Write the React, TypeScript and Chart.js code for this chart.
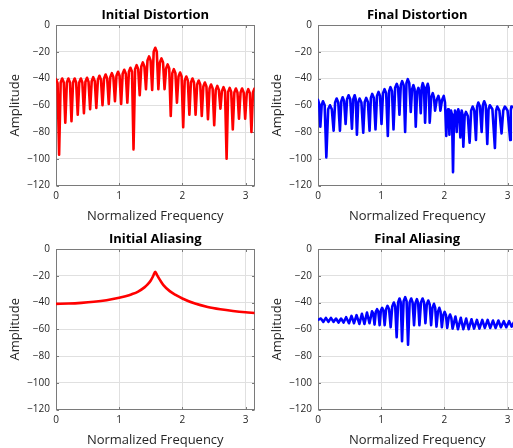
import React, { useEffect, useRef } from "react";
import { Chart, registerables } from "chart.js";
Chart.register(...registerables);

// ---------- axis / tick data ----------
const FREQ_MIN = 0;
const FREQ_MAX = 3.1416;
const AMP_MIN = -120;
const AMP_MAX = 0;
const FREQ_STEP = 1;
const AMP_STEP = 20;

// ---------- Initial Distortion (red) ----------
const initDistFreq = [
  0, 0.025, 0.049, 0.074, 0.098, 0.123, 0.147, 0.172, 0.196, 0.221, 0.245, 0.27, 0.295, 0.319, 0.344, 0.368,
  0.393, 0.417, 0.442, 0.466, 0.491, 0.515, 0.54, 0.565, 0.589, 0.614, 0.638, 0.663, 0.687, 0.712, 0.736, 0.761,
  0.785, 0.81, 0.835, 0.859, 0.884, 0.908, 0.933, 0.957, 0.982, 1.006, 1.031, 1.055, 1.08, 1.105, 1.129, 1.154,
  1.178, 1.203, 1.227, 1.252, 1.276, 1.301, 1.325, 1.35, 1.374, 1.399, 1.424, 1.448, 1.473, 1.497, 1.522, 1.546,
  1.571, 1.595, 1.62, 1.644, 1.669, 1.694, 1.718, 1.743, 1.767, 1.792, 1.816, 1.841, 1.865, 1.89, 1.914, 1.939,
  1.964, 1.988, 2.013, 2.037, 2.062, 2.086, 2.111, 2.135, 2.16, 2.184, 2.209, 2.234, 2.258, 2.283, 2.307, 2.332,
  2.356, 2.381, 2.405, 2.43, 2.454, 2.479, 2.504, 2.528, 2.553, 2.577, 2.602, 2.626, 2.651, 2.675, 2.7, 2.724,
  2.749, 2.773, 2.798, 2.823, 2.847, 2.872, 2.896, 2.921, 2.945, 2.97, 2.994, 3.019, 3.043, 3.068, 3.093, 3.117,
  3.1416,
];
const initDistAmp = [
  -40.5, -43.5, -97, -43, -40, -43, -73, -43, -40, -43, -72, -43, -40, -43, -67, -43,
  -40, -43, -66, -42.5, -39.5, -42.5, -63, -42, -39, -42, -62, -41, -38, -41, -60, -40,
  -37, -40, -59, -39, -36, -39, -57, -38, -35, -38, -59, -36.5, -33.5, -36.5, -58, -35,
  -32, -35, -93, -33, -30, -33, -52.5, -31, -28, -31, -48, -26.5, -23.5, -26.5, -48.5, -20,
  -17, -20, -48, -28, -25, -28, -48, -32.5, -29.5, -32.5, -68, -36, -33, -36, -58, -38.5,
  -35.5, -38.5, -76.5, -41.5, -38.5, -41.5, -67, -43, -40, -43, -67, -44.5, -41.5, -44.5, -68, -46,
  -43, -46, -70.5, -47.5, -44.5, -47.5, -75, -48.5, -45.5, -48.5, -62.5, -49.5, -46.5, -49.5, -100, -50,
  -47, -50, -78, -50.5, -47.5, -50.5, -70, -50.5, -47.5, -50.5, -70, -51, -48, -51, -80, -50.5,
  -47.5,
];

// ---------- Final Distortion (blue) ----------
const finalDistFreq = [
  0, 0.0185, 0.037, 0.058, 0.079, 0.1055, 0.132, 0.161, 0.19, 0.2185,
  0.247, 0.271, 0.295, 0.321, 0.347, 0.3685, 0.39, 0.4135, 0.437, 0.4605,
  0.484, 0.5105, 0.537, 0.5585, 0.58, 0.598, 0.616, 0.637, 0.658, 0.687,
  0.716, 0.7395, 0.763, 0.7895, 0.816, 0.837, 0.858, 0.884, 0.91, 0.934,
  0.958, 0.9815, 1.005, 1.029, 1.053, 1.079, 1.105, 1.126, 1.147, 1.171,
  1.195, 1.221, 1.247, 1.268, 1.289, 1.3105, 1.332, 1.3555, 1.379, 1.4,
  1.421, 1.4445, 1.468, 1.489, 1.51, 1.5285, 1.547, 1.568, 1.589, 1.6075,
  1.626, 1.642, 1.658, 1.6765, 1.695, 1.716, 1.737, 1.7525, 1.768, 1.792,
  1.816, 1.8345, 1.853, 1.879, 1.905, 1.921, 1.937, 1.9635, 1.99, 2.01,
  2.03, 2.044, 2.058, 2.069, 2.08, 2.0925, 2.105, 2.121, 2.137, 2.1525,
  2.168, 2.1815, 2.195, 2.2075, 2.22, 2.2365, 2.253, 2.2635, 2.274, 2.287,
  2.3, 2.321, 2.342, 2.371, 2.4, 2.4235, 2.447, 2.4735, 2.5, 2.5185,
  2.537, 2.5635, 2.59, 2.61, 2.63, 2.6545, 2.679, 2.6995, 2.72, 2.76,
  2.8, 2.8185, 2.837, 2.871, 2.905, 2.9315, 2.958, 3.0, 3.042, 3.051,
  3.06, 3.1416,
];
const finalDistAmp = [
  -56, -59, -76, -60, -57, -60, -99, -63, -60, -63,
  -79, -58, -55, -58, -79, -57, -54, -57, -74, -55.5,
  -52.5, -55.5, -77.5, -55.5, -52.5, -55.5, -82, -58, -55, -58,
  -80.5, -57.5, -54.5, -57.5, -79, -54.5, -51.5, -54.5, -78, -53,
  -50, -53, -74, -51, -48, -51, -83, -49.5, -46.5, -49.5,
  -78, -47, -44, -47, -67, -45, -42, -45, -80, -43.5,
  -40.5, -43.5, -65, -48, -45, -48, -76, -50, -47, -50,
  -66, -46.5, -43.5, -46.5, -73, -47, -44, -47, -73, -54,
  -51, -54, -64, -56, -53, -56, -64, -56, -53, -58,
  -83, -66, -63, -66, -82, -67, -64, -67, -110, -67,
  -64, -67, -80, -66, -63, -66, -84, -67, -64, -67,
  -91, -68, -65, -68, -88, -64, -61, -64, -86, -61,
  -58, -61, -80, -60, -57, -60, -89, -63, -60, -63,
  -92, -64, -61, -64, -81, -64, -61, -64, -86, -64,
  -61, -62,
];

// ---------- Initial Aliasing (red) ----------
const initAliasFreq = [
  0, 0.2, 0.4, 0.6, 0.8, 1.0, 1.1, 1.2, 1.3, 1.4, 1.45, 1.5, 1.54, 1.5708, 1.6, 1.65, 1.7, 1.8, 1.9, 2.0,
  2.2, 2.4, 2.6, 2.8, 3.0, 3.1416,
];
const initAliasAmp = [
  -41, -40.8, -40.3, -39.5, -38.3, -36.5, -35.3, -33.8, -31.8, -28.7, -26.5, -23.5, -20, -17, -19.5, -23.5,
  -27, -31.5, -34.5, -37, -40.8, -43.3, -45, -46.3, -47.3, -47.8,
];

// ---------- Final Aliasing (blue) ----------
const finalAliasFreq = [
  0, 0.045, 0.085, 0.125, 0.165, 0.205, 0.245, 0.285, 0.325, 0.365,
  0.405, 0.445, 0.49, 0.53, 0.57, 0.61, 0.655, 0.695, 0.735, 0.775,
  0.815, 0.855, 0.875, 0.895, 0.915, 0.935, 0.955, 0.975, 0.995, 1.015,
  1.035, 1.055, 1.078, 1.1, 1.125, 1.15, 1.175, 1.2, 1.222, 1.245,
  1.268, 1.29, 1.31, 1.33, 1.355, 1.38, 1.402, 1.425, 1.45, 1.475,
  1.497, 1.52, 1.542, 1.565, 1.585, 1.605, 1.63, 1.655, 1.678, 1.7,
  1.722, 1.745, 1.768, 1.79, 1.812, 1.835, 1.855, 1.875, 1.898, 1.92,
  1.94, 1.96, 1.982, 2.005, 2.025, 2.045, 2.068, 2.09, 2.11, 2.13,
  2.175, 2.215, 2.26, 2.3, 2.345, 2.385, 2.43, 2.47, 2.515, 2.555,
  2.6, 2.64, 2.685, 2.725, 2.77, 2.81, 2.855, 2.895, 2.94, 2.98,
  3.025, 3.065, 3.11, 3.1416,
];
const finalAliasAmp = [
  -53, -52, -54.5, -51.5, -54.5, -51.5, -54.5, -52, -55, -52,
  -55, -51, -55.5, -50, -55.5, -49.5, -56, -48.5, -56, -47.5,
  -55.5, -46.5, -48.5, -56.5, -47, -45, -47, -57, -46, -44,
  -46, -57, -45, -42.5, -45, -58.5, -43, -40, -43, -66,
  -40, -37, -40, -69, -39, -36, -39, -71.5, -40, -37,
  -40, -57, -40.5, -37.5, -40.5, -57, -40, -37, -40, -55.5,
  -41.5, -38.5, -41.5, -57, -44, -41, -44, -58, -47, -44,
  -47, -58.5, -49.5, -47, -49.5, -59, -51.5, -49, -51.5, -59.5,
  -50.5, -60, -51.5, -60, -52, -60, -52.5, -59.5, -53, -59.5,
  -53, -59, -53, -59, -53.5, -59, -53.5, -58.5, -54, -58.5,
  -54, -58, -54, -56,
];

// ---------- styling ----------
const RED = "rgb(255,0,0)";
const BLUE = "rgb(0,0,255)";
const TEXT = "#262626";
const AXIS = "#7a7a7a";
const GRID = "rgb(224,224,224)";
const FONT = "'Open Sans', 'DejaVu Sans', sans-serif";

const boxPlugin = {
  id: "matlabBox",
  beforeDatasetsDraw(chart: any) {
    const { ctx, chartArea: a, scales } = chart;
    const l = Math.round(a.left) + 0.5;
    const r = Math.round(a.right) - 0.5;
    const t = Math.round(a.top) + 0.5;
    const b = Math.round(a.bottom) - 0.5;
    ctx.save();
    ctx.strokeStyle = AXIS;
    ctx.lineWidth = 1;
    ctx.strokeRect(l, t, r - l, b - t);
    const tl = 2.5;
    ctx.beginPath();
    scales.x.ticks.forEach((tk: any) => {
      const px = Math.round(scales.x.getPixelForValue(tk.value)) + 0.5;
      ctx.moveTo(px, b);
      ctx.lineTo(px, b - tl);
      ctx.moveTo(px, t);
      ctx.lineTo(px, t + tl);
    });
    scales.y.ticks.forEach((tk: any) => {
      const py = Math.round(scales.y.getPixelForValue(tk.value)) + 0.5;
      ctx.moveTo(l, py);
      ctx.lineTo(l + tl, py);
      ctx.moveTo(r, py);
      ctx.lineTo(r - tl, py);
    });
    ctx.stroke();
    ctx.restore();
  },
};

type PanelProps = {
  title: string;
  freq: number[];
  amp: number[];
  color: string;
  smooth?: boolean;
  left: number;
  top: number;
};

function Panel({ title, freq, amp, color, smooth, left, top }: PanelProps) {
  const ref = useRef<HTMLCanvasElement | null>(null);
  useEffect(() => {
    if (!ref.current) return;
    const data = freq.map((f, i) => ({ x: f, y: amp[i] }));
    const chart = new Chart(ref.current, {
      type: "line",
      data: {
        datasets: [
          {
            data,
            borderColor: color,
            backgroundColor: color,
            borderWidth: 2.6,
            pointRadius: 0,
            borderJoinStyle: "round",
            borderCapStyle: "round",
            tension: smooth ? 0.4 : 0,
            cubicInterpolationMode: smooth ? "monotone" : "default",
            fill: false,
          },
        ],
      },
      options: {
        responsive: false,
        animation: false,
        devicePixelRatio: 1,
        events: [],
        layout: { padding: { left: 0, right: 7.5, top: 0, bottom: 0 } },
        plugins: {
          legend: { display: false },
          tooltip: { enabled: false },
          title: {
            display: true,
            text: title,
            fullSize: false,
            color: "#000",
            font: { family: FONT, size: 13, weight: "bold" },
            padding: { top: 7, bottom: 2.4 },
          },
        },
        scales: {
          x: {
            type: "linear",
            min: FREQ_MIN,
            max: FREQ_MAX,
            ticks: {
              stepSize: FREQ_STEP,
              includeBounds: false,
              color: TEXT,
              font: { family: FONT, size: 10 },
              padding: 5,
              maxRotation: 0,
            },
            grid: { color: GRID, drawTicks: false, lineWidth: 1 },
            border: { display: false },
            title: {
              display: true,
              text: "Normalized Frequency",
              color: TEXT,
              font: { family: FONT, size: 13 },
              padding: { top: 0, bottom: 0 },
            },
            afterFit: (s: any) => {
              s.height = 38.5;
            },
          },
          y: {
            type: "linear",
            min: AMP_MIN,
            max: AMP_MAX,
            ticks: {
              stepSize: AMP_STEP,
              color: TEXT,
              font: { family: FONT, size: 10 },
              padding: 6,
              callback: (v: any) => String(v).replace("-", "\u2212"),
            },
            grid: { color: GRID, drawTicks: false, lineWidth: 1 },
            border: { display: false },
            title: {
              display: true,
              text: "Amplitude",
              color: TEXT,
              font: { family: FONT, size: 13 },
              padding: { top: 7.5, bottom: 0 },
            },
            afterFit: (s: any) => {
              s.width = 56;
            },
          },
        },
      },
      plugins: [boxPlugin],
    } as any);
    return () => chart.destroy();
  }, [title, freq, amp, color, smooth]);
  return (
    <div style={{ position: "absolute", left, top, width: 262, height: 224 }}>
      <canvas ref={ref} width={262} height={224} style={{ display: "block" }} />
    </div>
  );
}

export default function App() {
  return (
    <div
      style={{
        position: "fixed",
        left: 0,
        top: 0,
        width: 513,
        height: 448,
        overflow: "hidden",
        background: "#fff",
      }}
    >
      <Panel title="Initial Distortion" freq={initDistFreq} amp={initDistAmp} color={RED} left={0} top={0} />
      <Panel title="Final Distortion" freq={finalDistFreq} amp={finalDistAmp} color={BLUE} left={262} top={0} />
      <Panel title="Initial Aliasing" freq={initAliasFreq} amp={initAliasAmp} color={RED} smooth left={0} top={224} />
      <Panel title="Final Aliasing" freq={finalAliasFreq} amp={finalAliasAmp} color={BLUE} left={262} top={224} />
    </div>
  );
}
